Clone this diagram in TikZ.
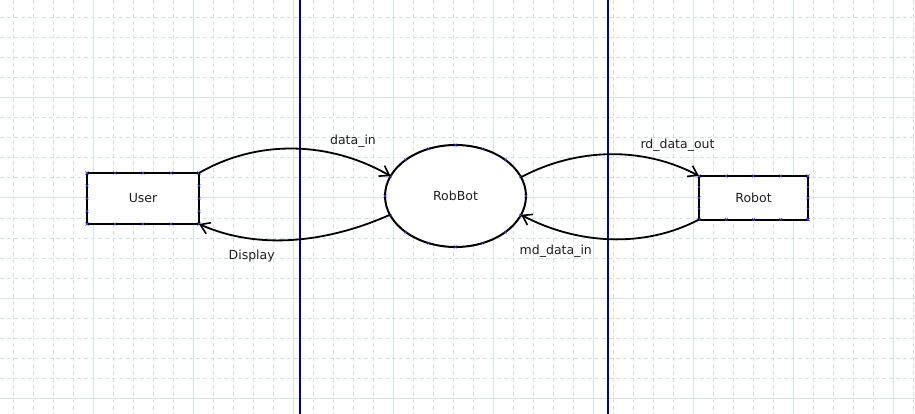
\documentclass[tikz,border=0pt]{standalone}
\usepackage{fontspec}
\setmainfont{DejaVu Sans}
\usetikzlibrary{shapes.geometric,arrows.meta,calc}
\definecolor{gridh}{RGB}{212,228,225}
\definecolor{gridv}{RGB}{222,224,224}
\definecolor{gridm}{RGB}{214,228,226}
\definecolor{vline}{RGB}{0,0,176}
\definecolor{cpc}{RGB}{60,60,230}
\tikzset{
  txt/.style={font=\fontsize{12.5}{15}\selectfont, text=black!88},
  entity/.style={draw=black, fill=white, line width=2pt, inner sep=0pt, outer sep=0pt, txt},
  procbox/.style={ellipse, draw=black, fill=white, line width=2pt, inner sep=0pt, outer sep=0pt,
    minimum width=141pt, minimum height=102pt, txt},
  flow/.style={line width=1.8pt, -{Straight Barb[length=9pt,width=12pt,line width=1.6pt]}},
  lbl/.style={anchor=base, inner sep=0pt, txt},
  cpt/.pic={\draw[cpc, line width=0.45pt] (-1.4pt,-1.4pt)--(1.4pt,1.4pt) (-1.4pt,1.4pt)--(1.4pt,-1.4pt);}
}
\begin{document}
\begin{tikzpicture}[x=1pt, y=-1pt]
\useasboundingbox (0,0) rectangle (915,414);
\fill[white] (0,0) rectangle (915,414);
% grid
\foreach \x in {13,33,...,913}{
  \pgfmathtruncatemacro{\r}{mod(\x-93,100)}
  \ifnum\r=0
    \draw[gridm, line width=1pt] (\x,0) -- (\x,414);
  \else
    \draw[gridv, line width=1pt, dash pattern=on 4pt off 3pt] (\x,0) -- (\x,414);
  \fi
}
\foreach \y in {18,38,...,398}{
  \pgfmathtruncatemacro{\r}{mod(\y-98,100)}
  \ifnum\r=0
    \draw[gridm, line width=1pt] (0,\y) -- (915,\y);
  \else
    \draw[gridh, line width=1pt, dash pattern=on 4pt off 3pt] (0,\y) -- (915,\y);
  \fi
}
% blue guide lines
\draw[vline, line width=1.1pt] (300,0) -- (300,414);
\draw[vline, line width=1.1pt] (608,0) -- (608,414);

% nodes
\node[entity, minimum width=112pt, minimum height=51pt] (user) at (143,198.5) {User};
\node[entity, minimum width=109pt, minimum height=43.5pt] (robot) at (753.5,197.75) {Robot};
\node[procbox] (rb) at (455.5,196) {RobBot};

% connection points
\foreach \n in {user,robot}{
  \foreach \i in {0,0.25,0.5,0.75,1}{
    \pic at ($(\n.north west)!\i!(\n.north east)$) {cpt};
    \pic at ($(\n.south west)!\i!(\n.south east)$) {cpt};
    \pic at ($(\n.north west)!\i!(\n.south west)$) {cpt};
    \pic at ($(\n.north east)!\i!(\n.south east)$) {cpt};
  }
}
\foreach \a in {0,22.5,...,337.5}{
  \pic at ($(rb.center)+(\a:70.5 and 51)$) {cpt};
}

% flows
\draw[flow] (user.north east) .. controls +(59.8,-34.5) and +(-59.8,-34.5) .. (rb.163.3);
\draw[flow] (rb.196.7) .. controls +(-60.8,27) and +(60.8,27) .. (user.south east);
\draw[flow] (rb.16.7) .. controls +(55.8,-29.7) and +(-55.8,-29.7) .. (robot.north west);
\draw[flow] (robot.south west) .. controls +(-55.2,29.3) and +(55.2,29.3) .. (rb.-16.7);

% labels
\node[lbl] (l1) at (353,145) {data\_in};
\node[lbl] (l2) at (251.7,259.3) {Display};
\node[lbl] (l3) at (677.5,149) {rd\_data\_out};
\node[lbl] (l4) at (555.8,254) {md\_data\_in};
\end{tikzpicture}
\end{document}
